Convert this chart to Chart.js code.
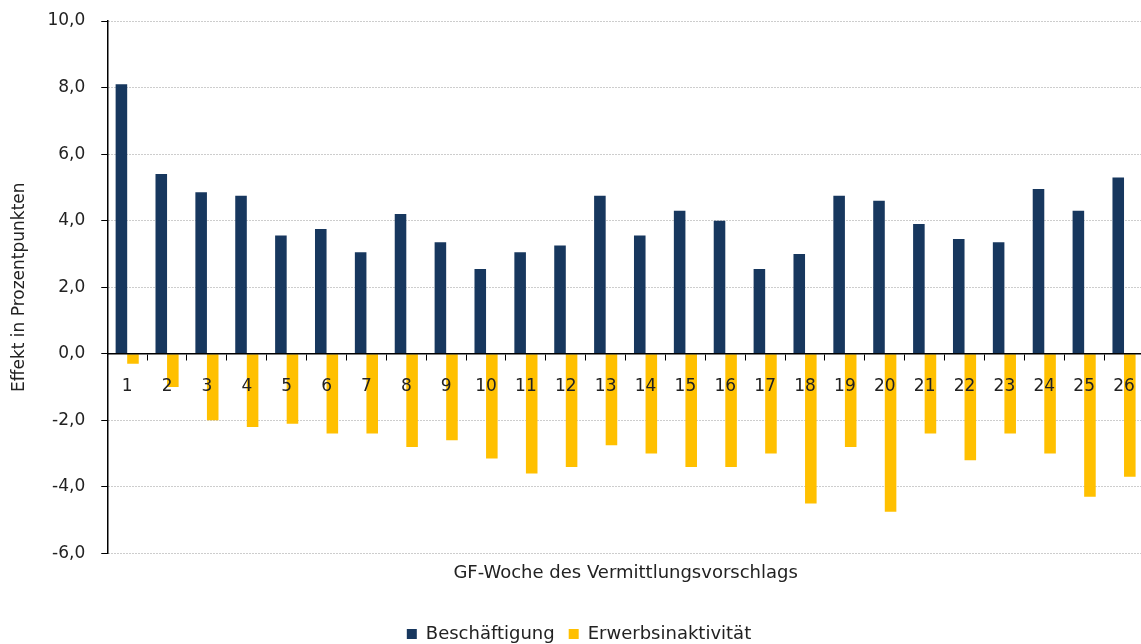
<!DOCTYPE html>
<html>
<head>
<meta charset="utf-8">
<script src="https://cdn.jsdelivr.net/npm/chart.js@4.4.1/dist/chart.umd.min.js"></script>
<style>
  html, body { margin: 0; padding: 0; background: #fff; overflow: hidden; }
  #wrap { position: absolute; left: 0; top: 0; width: 1152px; height: 644px; }
</style>
</head>
<body>
<div id="wrap"><canvas id="myChart" width="1152" height="644"></canvas></div>
<script>
// GF-Wochen 1..26
var weeks = ["1", "2", "3", "4", "5", "6", "7", "8", "9", "10", "11", "12", "13",
             "14", "15", "16", "17", "18", "19", "20", "21", "22", "23", "24", "25", "26"];
var beschaeftigung = [8.1, 5.4, 4.85, 4.75, 3.55, 3.75, 3.05, 4.2, 3.35, 2.55, 3.05, 3.25, 4.75,
                      3.55, 4.3, 4.0, 2.55, 3.0, 4.75, 4.6, 3.9, 3.45, 3.35, 4.95, 4.3, 5.3];
var erwerbsinaktiv = [-0.3, -1.0, -2.0, -2.2, -2.1, -2.4, -2.4, -2.8, -2.6, -3.15, -3.6, -3.4, -2.75,
                      -3.0, -3.4, -3.4, -3.0, -4.5, -2.8, -4.75, -2.4, -3.2, -2.4, -3.0, -4.3, -3.7];
var seriesNames = ["Beschäftigung", "Erwerbsinaktivität"];
var seriesColors = ["#17375E", "#FFC000"];
var yMin = -6, yMax = 10, yStep = 2;

var font = "'DejaVu Sans', sans-serif";
var txt = "#222";

new Chart("myChart", {
    type: "bar",
    data: {
        labels: weeks,
        datasets: [{
            label: seriesNames[0],
            data: beschaeftigung,
            backgroundColor: seriesColors[0]
        }, {
            label: seriesNames[1],
            data: erwerbsinaktiv,
            backgroundColor: seriesColors[1]
        }]
    },
    options: {
        responsive: false,
        animation: false,
        layout: {padding: {left: 9, top: 21, right: 3, bottom: -9}},
        datasets: {bar: {categoryPercentage: 0.58, barPercentage: 1.0}},
        plugins: {
            tooltip: {enabled: false},
            legend: {
                position: "bottom",
                labels: {
                    boxWidth: 10, boxHeight: 10, padding: 14,
                    color: txt,
                    font: {family: font, size: 18}
                }
            }
        },
        scales: {
            x: {
                offset: true,
                grid: {display: false},
                border: {display: false},
                ticks: {display: false},
                title: {
                    display: true,
                    text: "GF-Woche des Vermittlungsvorschlags",
                    color: txt,
                    font: {family: font, size: 18},
                    padding: {top: 1, bottom: 27}
                }
            },
            // the week numbers sit on the zero line, drawn over the bars
            x2: {
                type: "category",
                position: {y: 0},
                offset: true,
                grid: {
                    offset: true,
                    drawOnChartArea: false,
                    tickLength: 6,
                    tickColor: "#000",
                    z: 1
                },
                border: {display: true, color: "#000", width: 1.5, z: 1},
                ticks: {
                    color: txt,
                    font: {family: font, size: 17},
                    padding: 17,
                    maxRotation: 0,
                    autoSkip: false,
                    z: 1
                }
            },
            y: {
                min: yMin,
                max: yMax,
                // tick padding would otherwise push the plot top down
                afterFit: function (scale) {
                    scale.paddingTop = 10;
                    scale.paddingBottom = 10;
                },
                grid: {
                    color: "#9a9a9a",
                    lineWidth: 1,
                    tickBorderDash: [],
                    tickColor: "#000",
                    tickLength: 6
                },
                border: {display: true, color: "#000", width: 1.5, dash: [1, 2]},
                ticks: {
                    stepSize: yStep,
                    color: txt,
                    font: {family: font, size: 17},
                    padding: 16,
                    callback: function (v) { return v.toFixed(1).replace(".", ","); }
                },
                title: {
                    display: true,
                    text: "Effekt in Prozentpunkten",
                    color: txt,
                    font: {family: font, size: 17},
                    padding: {top: 0, bottom: 2}
                }
            }
        }
    }
});
</script>
</body>
</html>
